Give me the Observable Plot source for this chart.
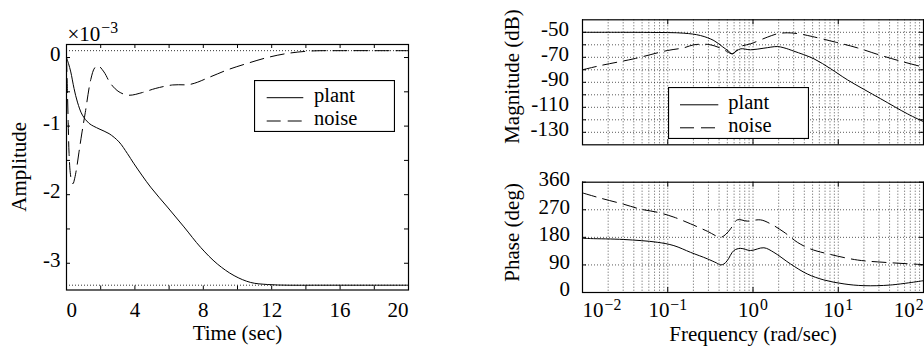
<!DOCTYPE html>
<html><head><meta charset="utf-8">
<script src="https://cdn.jsdelivr.net/npm/d3@7"></script>
<script src="https://cdn.jsdelivr.net/npm/@observablehq/plot@0.6"></script>
<style>
html,body{margin:0;padding:0;background:#fff;}
#root{position:relative;width:924px;height:349px;overflow:hidden;background:#fff;font-family:'Liberation Serif';}
#root svg{position:absolute;}
#root text{font-variant:normal;}
</style></head>
<body><div id="root"></div>
<script>
// ---------- data: step response (amplitude in units of 1e-3) ----------
const stepPlantT = [0, 0.12, 0.25, 0.44, 0.64, 0.93, 1.32, 1.9, 2.49, 3.07, 3.56, 3.95, 4.92, 5.9, 6.87, 7.85, 8.82, 9.8, 10.77, 11.75, 13, 14.5, 16, 18, 20];
const stepPlantA = [0, -0.09, -0.21, -0.45, -0.65, -0.84, -0.96, -1.04, -1.11, -1.23, -1.40, -1.55, -1.89, -2.18, -2.47, -2.77, -3.01, -3.18, -3.28, -3.31, -3.32, -3.32, -3.32, -3.32, -3.32];
const stepNoiseT = [0, 0.05, 0.1, 0.15, 0.22, 0.3, 0.38, 0.48, 0.6, 0.73, 0.9, 1.1, 1.42, 1.65, 1.85, 2.19, 2.58, 3.07, 3.65, 4.44, 5.22, 6.2, 7.26, 8.43, 9.41, 10.58, 11.75, 12.92, 14.28, 16, 18, 20];
const stepNoiseA = [0, -0.45, -0.95, -1.4, -1.68, -1.8, -1.84, -1.76, -1.6, -1.38, -1.1, -0.8, -0.32, -0.15, -0.12, -0.21, -0.38, -0.5, -0.55, -0.51, -0.45, -0.40, -0.39, -0.28, -0.18, -0.085, 0.0, 0.06, 0.095, 0.1, 0.1, 0.1];
const steadyA = [0.10, -3.32];
const timeTicks = [0, 4, 8, 12, 16, 20];
const timeMinor = [2, 4, 6, 8, 10, 12, 14, 16, 18];
const ampTicks = [-3, -2, -1, 0];
const ampMinor = [-3, -2.5, -2, -1.5, -1, -0.5, 0];

// ---------- data: Bode magnitude ----------
const plantMagW = [0.01, 0.03, 0.0628, 0.1545, 0.2427, 0.3476, 0.4363, 0.51, 0.5714, 0.64, 0.7146, 0.937, 1.343, 1.927, 2.306, 3.02, 5.19, 8.15, 12.8, 31.5, 64.7, 100];
const plantMagDb = [-50, -50, -50.1, -50.7, -52.6, -56.6, -61.4, -64.8, -67.2, -65, -63.2, -64.0, -62.7, -61.4, -62.4, -65.1, -71.2, -79.2, -88, -103.2, -115.2, -121.5];
const noiseMagW = [0.01, 0.01626, 0.04, 0.0986, 0.1545, 0.2024, 0.3034, 0.4165, 0.5, 0.5714, 0.7146, 0.937, 1.472, 1.927, 2.528, 3.46, 4.97, 9.31, 16.7, 30, 54, 100];
const noiseMagDb = [-80, -76.6, -71.2, -64.6, -62.4, -60, -59.8, -62.7, -65.5, -67.2, -61.4, -59.2, -53.9, -51.2, -50.4, -51.2, -53.4, -57.9, -62.4, -68, -73.1, -77.9];
const magTicks = [-130, -110, -90, -70, -50];
const magGrid = [-130, -120, -110, -100, -90, -80, -70, -60, -50];

// ---------- data: Bode phase ----------
const plantPhW = [0.01, 0.0124, 0.0305, 0.0753, 0.118, 0.1854, 0.291, 0.37, 0.4169, 0.455, 0.499, 0.597, 0.7146, 0.937, 1.343, 1.757, 2.76, 4.33, 6.79, 11.7, 20, 41.2, 100];
const plantPhDeg = [177, 176, 173, 164, 153, 131, 110, 97, 90, 93, 104, 137, 144, 137, 146, 131, 93, 60.5, 41, 28, 22.3, 24.5, 38.6];
const noisePhW = [0.01, 0.01626, 0.0305, 0.048, 0.0753, 0.118, 0.1854, 0.291, 0.4169, 0.48, 0.546, 0.654, 0.857, 1.227, 1.61, 2.31, 3.31, 4.74, 8.15, 16.8, 34.4, 100];
const noisePhDeg = [325, 308, 288, 272, 262, 246, 224, 200, 180, 190, 208, 237, 233, 237, 224, 197, 164, 142, 124, 106, 98.5, 91];
const phaseTicks = [0, 90, 180, 270, 360];
const phaseGrid = [90, 180, 270];
const freqTicks = [0.01, 0.1, 1, 10, 100];
const freqGrid = [];
for (const n of [-2, -1, 0, 1]) for (let k = 1; k <= 9; k++) freqGrid.push(+(k * Math.pow(10, n)).toPrecision(3));
freqGrid.push(100);

// ---------- helpers ----------
const FONT = "Liberation Serif";
const baseStyle = {fontFamily: FONT, fontSize: "21px", color: "#000", background: "transparent", overflow: "visible"};
const zip = (X, Y, kx, ky) => X.map((v, i) => ({[kx]: v, [ky]: Y[i]}));
const GRID = {stroke: "#000", strokeOpacity: 0.65, strokeDasharray: "1,2", strokeWidth: 1};
const DASH = "14,7";
const expFmt = d => "10^" + String(Math.round(Math.log10(d))).replace("-", "\u2212");

function fixText(svg) {
  svg.querySelectorAll("g").forEach(g => g.removeAttribute("font-variant"));
  svg.querySelectorAll("text").forEach(t => {
    t.setAttribute("font-family", FONT);
    t.style.fontFamily = "'" + FONT + "'";
    t.style.fontVariant = "normal";
    const s = t.textContent;
    const i = s.indexOf("^");
    if (i < 0 || t.querySelector("tspan")) return;
    t.textContent = s.slice(0, i);
    const ts = document.createElementNS("http://www.w3.org/2000/svg", "tspan");
    ts.setAttribute("dy", "-0.5em");
    ts.setAttribute("dx", "1");
    ts.setAttribute("font-size", "0.75em");
    ts.textContent = s.slice(i + 1);
    t.appendChild(ts);
  });
}
function place(svg, left, top) {
  svg.style.left = left + "px";
  svg.style.top = top + "px";
  svg.style.maxWidth = "none";
  fixText(svg);
  document.getElementById("root").appendChild(svg);
}

// ---------- left: step response ----------
{
  const W = 470, H = 349, ml = 66, mr = 62, mt = 44, mb = 59.5;
  const fw = W - ml - mr, fh = H - mt - mb;
  const plant = zip(stepPlantT, stepPlantA, "t", "a");
  const noise = zip(stepNoiseT, stepNoiseA, "t", "a");
  const svg = Plot.plot({
    width: W, height: H, marginLeft: ml, marginRight: mr, marginTop: mt, marginBottom: mb,
    style: baseStyle,
    x: {domain: [0, 20]},
    y: {domain: [-3.39, 0.19]},
    marks: [
      Plot.ruleY(steadyA, {y: d => d, ...GRID, strokeOpacity: 0.8}),
      Plot.line(plant, {x: "t", y: "a", stroke: "#000", strokeWidth: 1, curve: "catmull-rom"}),
      Plot.line(noise, {x: "t", y: "a", stroke: "#000", strokeWidth: 1, strokeDasharray: DASH, curve: "catmull-rom"}),
      Plot.ruleX(timeMinor, {x: d => d, insetBottom: fh - 4, stroke: "#000"}),
      Plot.ruleX(timeMinor, {x: d => d, insetTop: fh - 4, stroke: "#000"}),
      Plot.ruleY(ampMinor, {y: d => d, insetRight: fw - 4, stroke: "#000"}),
      Plot.ruleY(ampMinor, {y: d => d, insetLeft: fw - 4, stroke: "#000"}),
      Plot.frame({stroke: "#000", strokeWidth: 1.2}),
      Plot.axisX([timeTicks[0]], {tickSize: 0, tickPadding: 12, textAnchor: "start", tickFormat: d => String(d), label: null}),
      Plot.axisX(timeTicks.slice(1, -1), {tickSize: 0, tickPadding: 12, tickFormat: d => String(d), label: null}),
      Plot.axisX([timeTicks[timeTicks.length - 1]], {tickSize: 0, tickPadding: 12, textAnchor: "end", tickFormat: d => String(d), label: null}),
      Plot.axisY(ampTicks, {tickSize: 0, tickPadding: 6, dy: -3, tickFormat: d => String(d), label: null}),
      Plot.text(["Time (sec)"], {text: d => d, frameAnchor: "bottom", dy: 43, lineAnchor: "middle"}),
      Plot.text(["Amplitude"], {text: d => d, frameAnchor: "left", textAnchor: "middle", dx: -47, dy: -0.5, rotate: -90, lineAnchor: "middle"}),
      Plot.text(["\u00d710^\u22123"], {text: d => d, frameAnchor: "top-left", textAnchor: "start", lineAnchor: "bottom", dx: 1, dy: -4})
    ]
  });
  place(svg, 0, 0);
}

// ---------- right top: magnitude ----------
{
  const W = 454, H = 160, ml = 112, mr = 1, mt = 19.3, mb = 15.7;
  const fw = W - ml - mr, fh = H - mt - mb;
  const plant = zip(plantMagW, plantMagDb, "w", "v");
  const noise = zip(noiseMagW, noiseMagDb, "w", "v");
  const svg = Plot.plot({
    width: W, height: H, marginLeft: ml, marginRight: mr, marginTop: mt, marginBottom: mb,
    style: baseStyle,
    x: {type: "log", domain: [0.01, 100], axis: null},
    y: {domain: [-140, -40]},
    marks: [
      Plot.ruleX(freqGrid, {x: d => d, ...GRID}),
      Plot.ruleY(magGrid, {y: d => d, ...GRID}),
      Plot.line(plant, {x: "w", y: "v", stroke: "#000", strokeWidth: 1, curve: "catmull-rom"}),
      Plot.line(noise, {x: "w", y: "v", stroke: "#000", strokeWidth: 1, strokeDasharray: DASH, curve: "catmull-rom"}),
      Plot.ruleX(freqTicks, {x: d => d, insetBottom: fh - 5, stroke: "#000"}),
      Plot.ruleX(freqTicks, {x: d => d, insetTop: fh - 5, stroke: "#000"}),
      Plot.ruleY(magGrid, {y: d => d, insetRight: fw - 4, stroke: "#000"}),
      Plot.ruleY(magGrid, {y: d => d, insetLeft: fw - 4, stroke: "#000"}),
      Plot.frame({stroke: "#000", strokeWidth: 1.2}),
      Plot.axisY(magTicks, {tickSize: 0, tickPadding: 13.5, dy: -3, tickFormat: d => String(d), label: null}),
      Plot.text(["Magnitude (dB)"], {text: d => d, frameAnchor: "left", textAnchor: "middle", dx: -70.3, dy: -5.8, rotate: -90, lineAnchor: "middle"})
    ]
  });
  place(svg, 470, 0);
}

// ---------- right bottom: phase ----------
{
  const W = 454, H = 189, ml = 112, mr = 1, mt = 21.7, mb = 57;
  const fw = W - ml - mr, fh = H - mt - mb;
  const plant = zip(plantPhW, plantPhDeg, "w", "v");
  const noise = zip(noisePhW, noisePhDeg, "w", "v");
  const svg = Plot.plot({
    width: W, height: H, marginLeft: ml, marginRight: mr, marginTop: mt, marginBottom: mb,
    style: baseStyle,
    x: {type: "log", domain: [0.01, 100]},
    y: {domain: [0, 360]},
    marks: [
      Plot.ruleX(freqGrid, {x: d => d, ...GRID}),
      Plot.ruleY(phaseGrid, {y: d => d, ...GRID}),
      Plot.line(plant, {x: "w", y: "v", stroke: "#000", strokeWidth: 1, curve: "catmull-rom"}),
      Plot.line(noise, {x: "w", y: "v", stroke: "#000", strokeWidth: 1, strokeDasharray: DASH, curve: "catmull-rom"}),
      Plot.ruleX(freqTicks, {x: d => d, insetBottom: fh - 5, stroke: "#000"}),
      Plot.ruleX(freqTicks, {x: d => d, insetTop: fh - 5, stroke: "#000"}),
      Plot.ruleY(phaseTicks, {y: d => d, insetRight: fw - 4, stroke: "#000"}),
      Plot.ruleY(phaseTicks, {y: d => d, insetLeft: fw - 4, stroke: "#000"}),
      Plot.frame({stroke: "#000", strokeWidth: 1.2}),
      Plot.axisX([freqTicks[0]], {tickSize: 0, tickPadding: 10, textAnchor: "start", tickFormat: expFmt, label: null}),
      Plot.axisX(freqTicks.slice(1, -1), {tickSize: 0, tickPadding: 10, tickFormat: expFmt, label: null}),
      Plot.axisX([freqTicks[freqTicks.length - 1]], {tickSize: 0, tickPadding: 10, textAnchor: "end", tickFormat: expFmt, label: null}),
      Plot.axisY(phaseTicks, {tickSize: 0, tickPadding: 12.5, dy: -3, tickFormat: d => String(d), label: null}),
      Plot.text(["Frequency (rad/sec)"], {text: d => d, frameAnchor: "bottom", dy: 42, lineAnchor: "middle"}),
      Plot.text(["Phase (deg)"], {text: d => d, frameAnchor: "left", textAnchor: "middle", dx: -70.3, dy: -5, rotate: -90, lineAnchor: "middle"})
    ]
  });
  place(svg, 470, 160);
}

// ---------- legends ----------
function legend(left, top, w, h, rows) {
  const svg = d3.select("#root").append("svg")
    .attr("width", w + 1).attr("height", h + 1)
    .style("left", left + "px").style("top", top + "px");
  svg.append("rect").attr("x", 0.5).attr("y", 0.5).attr("width", w).attr("height", h)
    .attr("fill", "#fff").attr("stroke", "#000").attr("stroke-width", 1.2);
  rows.forEach(r => {
    svg.append("line").attr("x1", r.x1).attr("x2", r.x2).attr("y1", r.y).attr("y2", r.y)
      .attr("stroke", "#000").attr("stroke-width", 1).attr("stroke-dasharray", r.dash || null);
    svg.append("text").attr("x", r.tx).attr("y", r.y + 4).attr("font-size", 20.5)
      .attr("font-family", FONT).style("font-family", "'" + FONT + "'").text(r.label);
  });
}
legend(254, 80, 140, 51, [
  {label: "plant", x1: 12.7, x2: 49.3, y: 17.7, tx: 60},
  {label: "noise", x1: 12.7, x2: 49.3, y: 41, tx: 60, dash: DASH}
]);
legend(668, 86.5, 140, 51, [
  {label: "plant", x1: 12, x2: 50.3, y: 17.8, tx: 60.3},
  {label: "noise", x1: 12, x2: 50.3, y: 40.8, tx: 60.3, dash: DASH}
]);
</script>
</body></html>
